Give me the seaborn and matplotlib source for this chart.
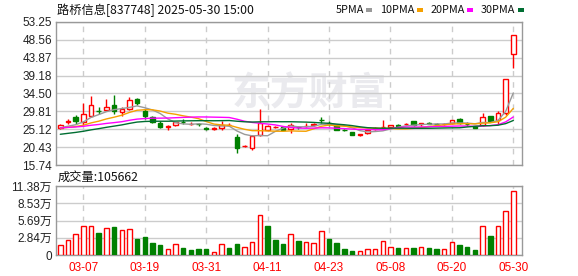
import matplotlib
matplotlib.use("Agg")
import matplotlib.pyplot as plt
import seaborn as sns
import numpy as np
import pandas as pd
from matplotlib.patches import Rectangle

# ---------------- data ----------------
dates = ["03-04", "03-05", "03-06", "03-07", "03-10", "03-11", "03-12", "03-13", "03-14", "03-17",
         "03-18", "03-19", "03-20", "03-21", "03-24", "03-25", "03-26", "03-27", "03-28", "03-31",
         "04-01", "04-02", "04-03", "04-07", "04-08", "04-09", "04-10", "04-11", "04-14", "04-15",
         "04-16", "04-17", "04-18", "04-21", "04-22", "04-23", "04-24", "04-25", "04-28", "04-29",
         "04-30", "05-06", "05-07", "05-08", "05-09", "05-12", "05-13", "05-14", "05-15", "05-16",
         "05-19", "05-20", "05-21", "05-22", "05-23", "05-26", "05-27", "05-28", "05-29", "05-30"]

open_ = [25.4, 27.15, 28.3, 26.9, 28.7, 30.0, 30.1, 31.6, 29.6, 30.4,
         33.0, 30.0, 28.2, 26.7, 25.8, 26.2, 27.1, 26.5, 26.5, 25.4,
         25.25, 25.45, 26.15, 23.1, 20.7, 20.25, 23.56, 25.05, 25.7, 25.73,
         25.1, 25.8, 25.85, 26.35, 27.6, 26.7, 26.35, 24.95, 24.4, 23.7,
         24.15, 25.25, 25.65, 25.8, 26.2, 26.5, 27.2, 26.55, 26.7, 26.6,
         26.45, 26.87, 27.9, 26.5, 25.98, 26.17, 28.5, 27.47, 29.38, 44.84]

high = [26.4, 27.9, 28.9, 32.0, 33.9, 31.0, 33.0, 34.1, 31.0, 33.7,
        33.3, 30.4, 28.7, 27.3, 26.3, 27.1, 27.8, 26.9, 26.8, 25.8,
        25.6, 27.4, 26.8, 23.8, 21.1, 23.6, 30.33, 26.2, 26.0, 25.9,
        26.7, 26.0, 26.7, 26.8, 28.3, 27.4, 26.5, 25.1, 24.5, 24.0,
        25.0, 25.6, 27.5, 26.3, 26.5, 26.8, 27.3, 26.8, 26.9, 26.8,
        26.7, 27.6, 28.0, 27.0, 26.0, 29.47, 28.5, 29.8, 38.33, 49.83]

low = [25.3, 26.5, 26.5, 26.3, 28.2, 29.0, 29.8, 29.2, 28.7, 30.1,
       31.6, 27.9, 26.8, 25.5, 25.0, 26.0, 26.6, 26.2, 26.1, 25.0,
       25.0, 25.05, 25.9, 18.95, 20.5, 19.7, 23.4, 24.9, 25.5, 24.9,
       24.1, 25.3, 25.6, 26.1, 26.7, 25.9, 24.8, 24.6, 23.6, 23.4,
       24.0, 25.0, 25.4, 25.7, 25.9, 26.3, 26.1, 25.9, 26.4, 26.3,
       26.2, 26.5, 26.6, 25.9, 25.5, 26.1, 26.9, 26.6, 28.77, 41.09]

close = [26.2, 27.2, 27.3, 29.0, 31.4, 29.9, 31.0, 30.0, 30.4, 32.9,
         31.9, 28.6, 27.1, 25.75, 25.85, 27.0, 26.9, 26.6, 26.4, 25.3,
         25.35, 26.35, 26.25, 20.1, 20.8, 23.38, 26.87, 25.9, 25.8, 25.05,
         26.35, 25.7, 25.95, 26.45, 27.5, 26.6, 24.87, 24.85, 23.7, 23.8,
         24.87, 25.35, 25.75, 26.2, 26.1, 26.6, 26.2, 26.65, 26.6, 26.5,
         26.55, 27.47, 26.77, 26.4, 25.55, 28.33, 27.29, 29.47, 38.33, 49.83]

volume = [16700, 24400, 34400, 47800, 47800, 36700, 44400, 46700, 41100, 42800,
          26700, 30000, 20000, 16700, 9400, 17800, 11700, 8300, 10000, 10000,
          4400, 17800, 11700, 18300, 12800, 21700, 66700, 48300, 25000, 18300,
          34400, 23300, 21700, 20000, 39400, 26700, 20000, 10000, 6700, 6100,
          9400, 9400, 22800, 12800, 11100, 11100, 11100, 12800, 11100, 10000,
          9400, 21100, 16700, 12800, 7800, 47800, 31100, 47800, 72800, 105662]

# closes of the 29 sessions before the window (needed for the moving averages)
prior_close = [19.8, 20.0, 20.1, 20.3, 20.4, 20.5, 20.6, 20.9, 21.0, 21.4,
               24.0, 25.2, 25.6, 25.9, 25.7, 25.5, 25.8, 25.6, 25.4, 25.8,
               25.6, 25.2, 25.5, 25.3, 25.4, 25.1, 25.4, 25.3, 25.5]

ma_periods = [5, 10, 20, 30]
ma_names = ["5PMA", "10PMA", "20PMA", "30PMA"]

price_ticks = [15.74, 20.43, 25.12, 29.81, 34.50, 39.18, 43.87, 48.56, 53.25]
price_tick_labels = ["15.74", "20.43", "25.12", "29.81", "34.50", "39.18", "43.87", "48.56", "53.25"]
vol_ticks = [0, 28450, 56900, 85350, 113800]
vol_tick_labels = ["0", "2.84万", "5.69万", "8.53万", "11.38万"]
date_tick_labels = ["03-07", "03-19", "03-31", "04-11", "04-23", "05-08", "05-20", "05-30"]

title = "路桥信息[837748] 2025-05-30 15:00"
vol_title = "成交量:"

# ---------------- style ----------------
UP = "#FF0000"
DOWN = "#008000"
ma_colors = {"5PMA": "#999999", "10PMA": "#F5A000", "20PMA": "#FF00FF", "30PMA": "#006E32"}
GRID = "#CCCCCC"
FRAME = "#999999"

sns.set_theme(style="white")
plt.rcParams["font.family"] = ["Liberation Sans", "Noto Sans CJK SC", "DejaVu Sans"]

W, H = 578, 276
fig = plt.figure(figsize=(W / 100, H / 100), dpi=100)
L, R = 56, 522
ax = fig.add_axes([L / W, 1 - 165 / H, (R - L) / W, (165 - 22) / H])
axv = fig.add_axes([L / W, 1 - 255 / H, (R - L) / W, (255 - 186) / H])

n = len(close)
x = np.arange(n)
o = np.array(open_); c = np.array(close); h = np.array(high); lo = np.array(low)
up = c >= o
cand_edge = np.where(up, UP, DOWN)
cand_face = np.where(up, "white", DOWN)

# wicks and bodies
ax.vlines(x, lo, h, colors=cand_edge, linewidth=1, zorder=2)
ax.bar(x, np.abs(c - o), bottom=np.minimum(o, c), width=0.58,
       color=cand_face, edgecolor=cand_edge, linewidth=1, zorder=3)

# moving averages
all_close = pd.Series(prior_close + close)
rows = []
for p, name in zip(ma_periods, ma_names):
    vals = all_close.rolling(p).mean().iloc[-n:].to_numpy()
    rows.append(pd.DataFrame({"idx": x, "value": vals, "ma": name}))
df_ma = pd.concat(rows, ignore_index=True)
sns.lineplot(data=df_ma, x="idx", y="value", hue="ma", palette=ma_colors,
             hue_order=ma_names, estimator=None, linewidth=1, legend=False,
             ax=ax, zorder=4)

# volume: coloured by change vs previous close
prev = np.concatenate([[prior_close[-1]], c[:-1]])
vup = c >= prev
vol_edge = np.where(vup, UP, DOWN)
vol_face = np.where(vup, "white", DOWN)
axv.bar(x, volume, width=0.58, color=vol_face, edgecolor=vol_edge, linewidth=1, zorder=3)

# axes setup
tick_idx = [dates.index(d) for d in date_tick_labels]
for a in (ax, axv):
    a.set_xlim(-0.56, n + 0.13)
    a.set_xticks(tick_idx)
    a.xaxis.grid(True, color=GRID, linestyle=(0, (4, 4)), linewidth=1)
    a.yaxis.grid(True, color=GRID, linestyle="-", linewidth=1)
    a.set_axisbelow(True)
    for s in a.spines.values():
        s.set_color(FRAME)
        s.set_linewidth(1)
    a.tick_params(length=0, labelsize=8.5, pad=3, colors="#222222")
    a.set_xlabel("")
    a.set_ylabel("")

ax.set_ylim(price_ticks[0], price_ticks[-1])
ax.set_yticks(price_ticks)
ax.set_yticklabels(price_tick_labels)
ax.set_xticklabels([])

axv.set_ylim(vol_ticks[0], vol_ticks[-1])
axv.set_yticks(vol_ticks)
axv.set_yticklabels(vol_tick_labels)
axv.set_xticklabels(date_tick_labels)
axv.tick_params(axis="x", colors=UP, pad=5)

# watermark
ax.text(0.545, 0.50, "东方财富", transform=ax.transAxes, fontsize=28,
        fontweight="bold", color="#EAEAEE", ha="center", va="center",
        family=["Noto Sans CJK SC"], zorder=0)

# header texts
hdr_font = ["Noto Sans CJK SC", "DejaVu Sans"]
fig.text(57 / W, 1 - 10 / H, title, fontsize=8.8, color="#111111",
         ha="left", va="center", family=hdr_font)
fig.text(58 / W, 1 - 177 / H, f"{vol_title}{volume[-1]}", fontsize=8.8, color="#111111",
         ha="left", va="center", family=hdr_font)

# legend (text followed by a small colour square)
renderer = fig.canvas.get_renderer()
cur = 336.0
for name in ma_names:
    t = fig.text(cur / W, 1 - 10 / H, name, fontsize=7.8, color="#111111",
                 ha="left", va="center", family=hdr_font)
    bb = t.get_window_extent(renderer=renderer)
    sq = bb.x1 + 2
    fig.add_artist(Rectangle((sq / W, 1 - 11.5 / H), 6 / W, 4 / H,
                             transform=fig.transFigure, color=ma_colors[name], lw=0))
    cur = sq + 6 + 8

fig.savefig("out.png", dpi=100)
